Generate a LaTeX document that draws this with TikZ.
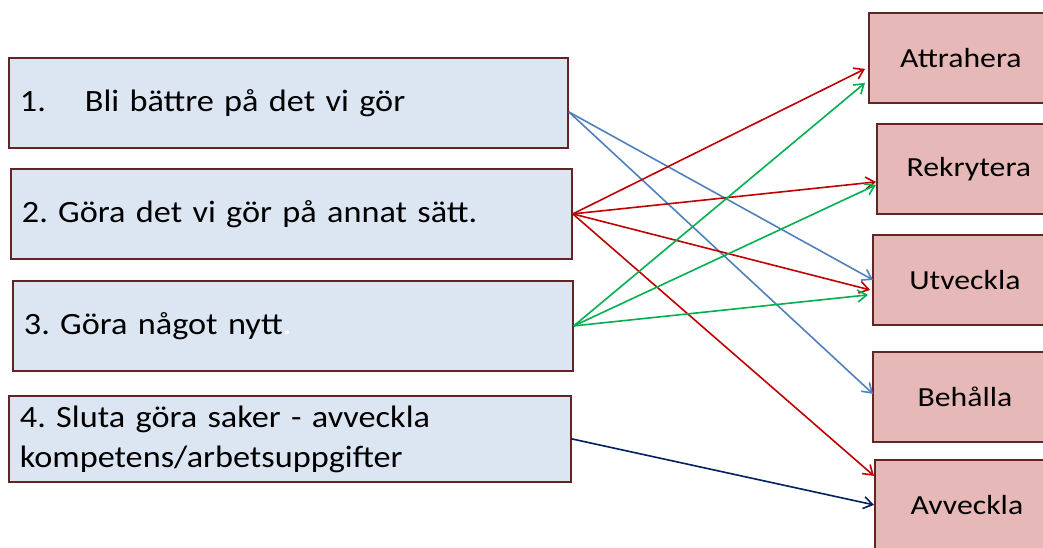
\documentclass[tikz,border=0pt]{standalone}
\usepackage{fontspec}
\setmainfont{Carlito}
\newfontfamily\boxfont{Carlito}[FakeStretch=1.15]
\newfontfamily\lfont{Carlito}[FakeStretch=1.105]
\newcommand\lboxfont{\lfont\fontsize{31}{39}\selectfont\frenchspacing}
\usetikzlibrary{arrows.meta}
\definecolor{lfill}{HTML}{DCE6F2}
\definecolor{rfill}{HTML}{E6B9B8}
\definecolor{bord}{HTML}{632523}
\definecolor{lblue}{HTML}{4F81BD}
\definecolor{lred}{HTML}{C00000}
\definecolor{lgreen}{HTML}{00B050}
\definecolor{dblue}{HTML}{002060}
\tikzset{
  lbox/.style={draw=bord, fill=lfill, line width=1.8pt, minimum height=90pt,
    inner xsep=11pt, inner ysep=0pt, align=left, anchor=north west,
    font=\lboxfont},
  rbox/.style={draw=bord, fill=rfill, line width=1.8pt, minimum height=90pt,
    minimum width=184pt, anchor=north west, inner sep=0pt,
    font=\boxfont\fontsize{27.6}{33}\selectfont},
  conn/.style={line width=1.6pt, -{Straight Barb[length=9pt,width=12pt,line width=1.6pt]}}
}
\begin{document}
\begin{tikzpicture}[x=1pt,y=-1pt]
\useasboundingbox (0,0) rectangle (1043,548);
\clip (0,0) rectangle (1043,548);
\fill[white] (0,0) rectangle (1043,548);
\node[lbox, text width=537pt] (b1) at (8,57) {1.\hspace{39pt}Bli bättre på det vi gör};
\node[lbox, text width=539pt] (b2) at (10,168) {2. Göra det vi gör på annat sätt.};
\node[lbox, text width=538pt] (b3) at (12,280) {3. Göra något nytt{\color{white}.}};
\node[lbox, text width=540pt, minimum height=86pt] (b4) at (8,395) {4. Sluta göra saker - avveckla\\[1pt]kompetens/arbetsuppgifter};
\node[rbox] (r1) at (868,12) {Attrahera};
\node[rbox] (r2) at (876,123) {Rekrytera};
\node[rbox] (r3) at (872,234) {Utveckla};
\node[rbox] (r4) at (872,351) {Behålla};
\node[rbox] (r5) at (874,459) {Avveckla};
% blue
\draw[conn, lblue] ([yshift=-9pt]b1.east) -- ([xshift=1pt]r3.west);
\draw[conn, lblue] ([yshift=-9pt]b1.east) -- ([xshift=1pt,yshift=3pt]r4.west);
% red
\draw[conn, lred] (b2.east) -- ([xshift=-3pt,yshift=-11pt]r1.west);
\draw[conn, lred] (b2.east) -- ([yshift=-13pt]r2.west);
\draw[conn, lred] (b2.east) -- ([xshift=-2pt,yshift=-10pt]r3.west);
\draw[conn, lred] (b2.east) -- ([yshift=29pt]r5.west);
% green
\draw[conn, lgreen] (b3.east) -- ([xshift=-3pt,yshift=-25pt]r1.west);
\draw[conn, lgreen] (b3.east) -- ([yshift=-16pt]r2.west);
\draw[conn, lgreen] (b3.east) -- ([xshift=-4pt,yshift=-15pt]r3.west);
% dark blue
\draw[conn, dblue] (b4.east) -- (r5.west);
\end{tikzpicture}
\end{document}
